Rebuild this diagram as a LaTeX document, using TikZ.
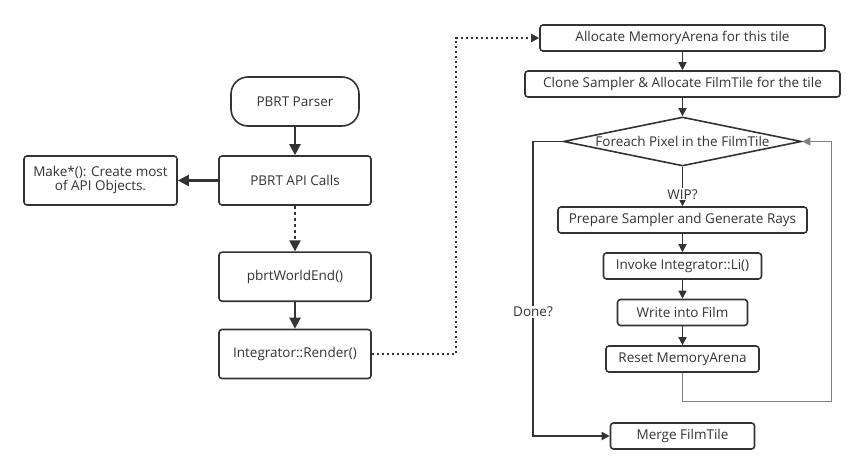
\documentclass[tikz,border=0pt]{standalone}
\usepackage{fontspec}
\setmainfont{Open Sans}
\usepackage{tikz}
\usetikzlibrary{arrows.meta}
\usetikzlibrary{shapes.geometric}
\definecolor{ink}{HTML}{333333}
\tikzset{basic box/.style={draw=ink,text=ink,inner sep=0pt,line width=1.6pt}}
\tikzset{box/.style={basic box,rounded corners=3pt}}
\tikzset{flow/.style={draw=ink,
                      line width=2.2pt,
                      -{Triangle[length=11pt,width=11pt]}}}

\begin{document}
\begin{tikzpicture}
      [
      x=1pt,y=-1pt,
      font=\fontsize{13.5}{16}\selectfont,
      big box/.style={box,minimum height=49pt},
      small box/.style={box,minimum height=26pt},
      small flow/.style={flow,line width=1.4pt,-{Triangle[length=8pt,width=8pt]}},
      back flow/.style={small flow,draw=gray,line width=1pt},
      dots/.style={dash pattern=on 2.5pt off 2.5pt},
      ]

      \useasboundingbox (0,0) rectangle (865,473);

      % left column
      \node [big box,rounded corners=17pt,minimum width=128pt] (parser) at (295,101.5) {PBRT Parser};
      \node [big box,minimum width=153pt] (make) at (100.5,180.5)
      {\begin{tabular}{@{}c@{}}Make*(): Create most\\[-2pt] of API Objects.\end{tabular}};

      \foreach \n/\y/\t in
      {
      calls/180.5/PBRT API Calls,
      worldend/276.7/pbrtWorldEnd(),
      render/354/Integrator::Render()
      }
      {
      \node [big box,minimum width=152pt] (\n) at (295,\y) {\t};
      }

      % right column
      \foreach \n/\w/\y/\t in
      {
      alloc/285/38/Allocate MemoryArena for this tile,
      clone/315/84/Clone Sampler \& Allocate FilmTile for the tile,
      prepare/249/220/Prepare Sampler and Generate Rays,
      invoke/158/266/Invoke Integrator::Li(),
      write/130/312.5/Write into Film,
      reset/153/359/Reset MemoryArena,
      merge/144/436/Merge FilmTile
      }
      {
      \node [small box,minimum width=\w pt] (\n) at (682.5,\y) {\t};
      }

      \node [basic box,diamond,minimum width=238pt,minimum height=49pt,
      label=center:{\textcolor{ink}{Foreach Pixel in the FilmTile}}] (pixel) at (682.5,141.5) {};

      \coordinate (hop) at (456,38);
      \coordinate (loop) at (831,401.7);
      \coordinate (done) at (533,311.7);

      % edges
      \draw [flow] (parser) -- (calls);
      \draw [flow] (calls) -- (make);
      \draw [flow,dots,dash pattern=on 3pt off 3pt] (calls) -- (worldend);
      \draw [flow] (worldend) -- (render);
      \draw [small flow,dots,line width=2pt] (render.east) -| (hop) -- (alloc.west);

      \draw [small flow] (alloc) -- (clone);
      \draw [small flow] (clone) -- (pixel.north);
      \draw [small flow] (pixel.south) -- node [pos=0.7,fill=white,text=ink,inner sep=1pt] {WIP?} (prepare);
      \draw [small flow] (prepare) -- (invoke);
      \draw [small flow] (invoke) -- (write);
      \draw [small flow] (write) -- (reset);

      % loop back and exit
      \draw [back flow] (reset.south) |- (loop) |- (pixel.east);
      \draw [small flow,line width=1.8pt] (pixel.west) -| (done)
      node [fill=white,text=ink,inner sep=1pt] {Done?} |- (merge.west);

    \end{tikzpicture}
\end{document}
